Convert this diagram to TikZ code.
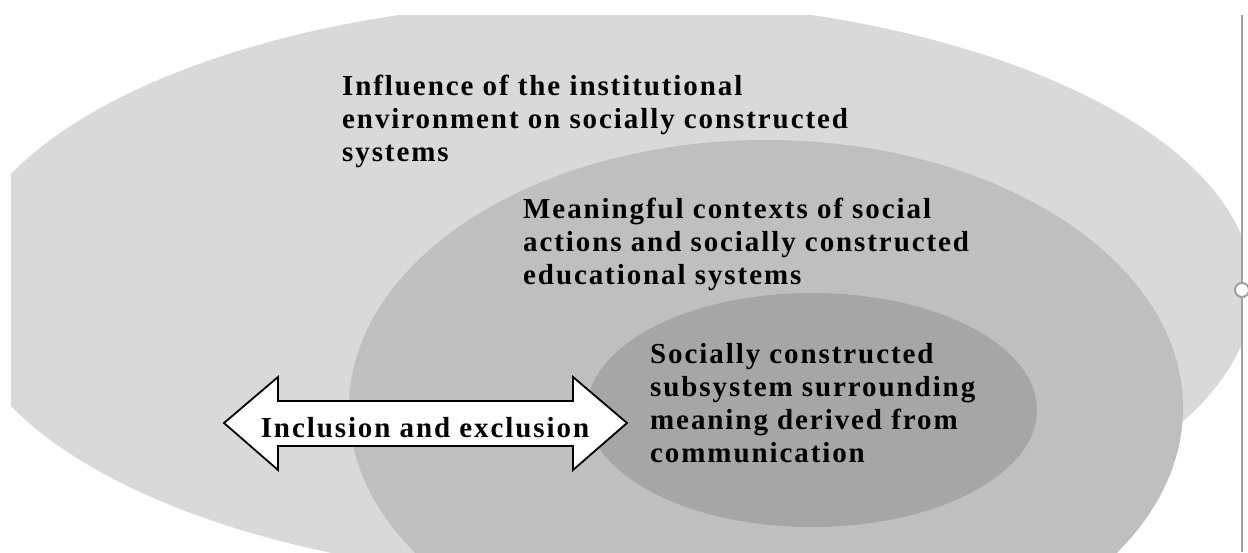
\documentclass[tikz,border=0pt]{standalone}
\usepackage{fontspec}
\newfontfamily\lblfont{Liberation Serif}[LetterSpace=6.6]
\definecolor{outerfill}{HTML}{D9D9D9}
\definecolor{midfill}{HTML}{BFBFBF}
\definecolor{innerfill}{HTML}{A6A6A6}
\definecolor{framegray}{HTML}{A0A0A0}
\begin{document}
\begin{tikzpicture}[x=1pt,y=-1pt,
  lbl/.style={font={\lblfont\bfseries\fontsize{29}{33}\selectfont}, align=left, inner sep=0pt, anchor=base west},
  bigarrow/.style={draw=black, line width=1.8pt, fill=white, line join=miter}]
\useasboundingbox (0,0) rectangle (1248,552);
\clip (0,0) rectangle (1248,552);

% nested regions
\begin{scope}
  \clip (11,15) rectangle (1242,552);
  \fill[outerfill] (605,290) ellipse [x radius=648, y radius=290];
\end{scope}
\fill[midfill] (766,408) ellipse [x radius=417, y radius=268];
\fill[innerfill] (812,410) ellipse [x radius=225, y radius=117];

% canvas border with its side handle
\draw[framegray, line width=1.5pt] (1242,15) -- (1242,552);
\draw[framegray, line width=2pt, fill=white] (1242,290) circle [radius=7];

% two-headed block arrow
\draw[bigarrow] (224,423) -- (278,377) -- (278,401) -- (573,401) -- (573,377)
  -- (627,423) -- (573,470) -- (573,446) -- (278,446) -- (278,470) -- cycle;
\node[lbl, anchor=base] (incl) at (425,437) {Inclusion and exclusion};

% region labels (anchored at the baseline of their last line)
\node[lbl] (outerlbl) at (342,161) {Influence of the institutional\\environment on socially constructed\\systems};
\node[lbl] (midlbl) at (523,284) {Meaningful contexts of social\\actions and socially constructed\\educational systems};
\node[lbl] (innerlbl) at (650,462) {Socially constructed\\subsystem surrounding\\meaning derived from\\communication};
\end{tikzpicture}
\end{document}
